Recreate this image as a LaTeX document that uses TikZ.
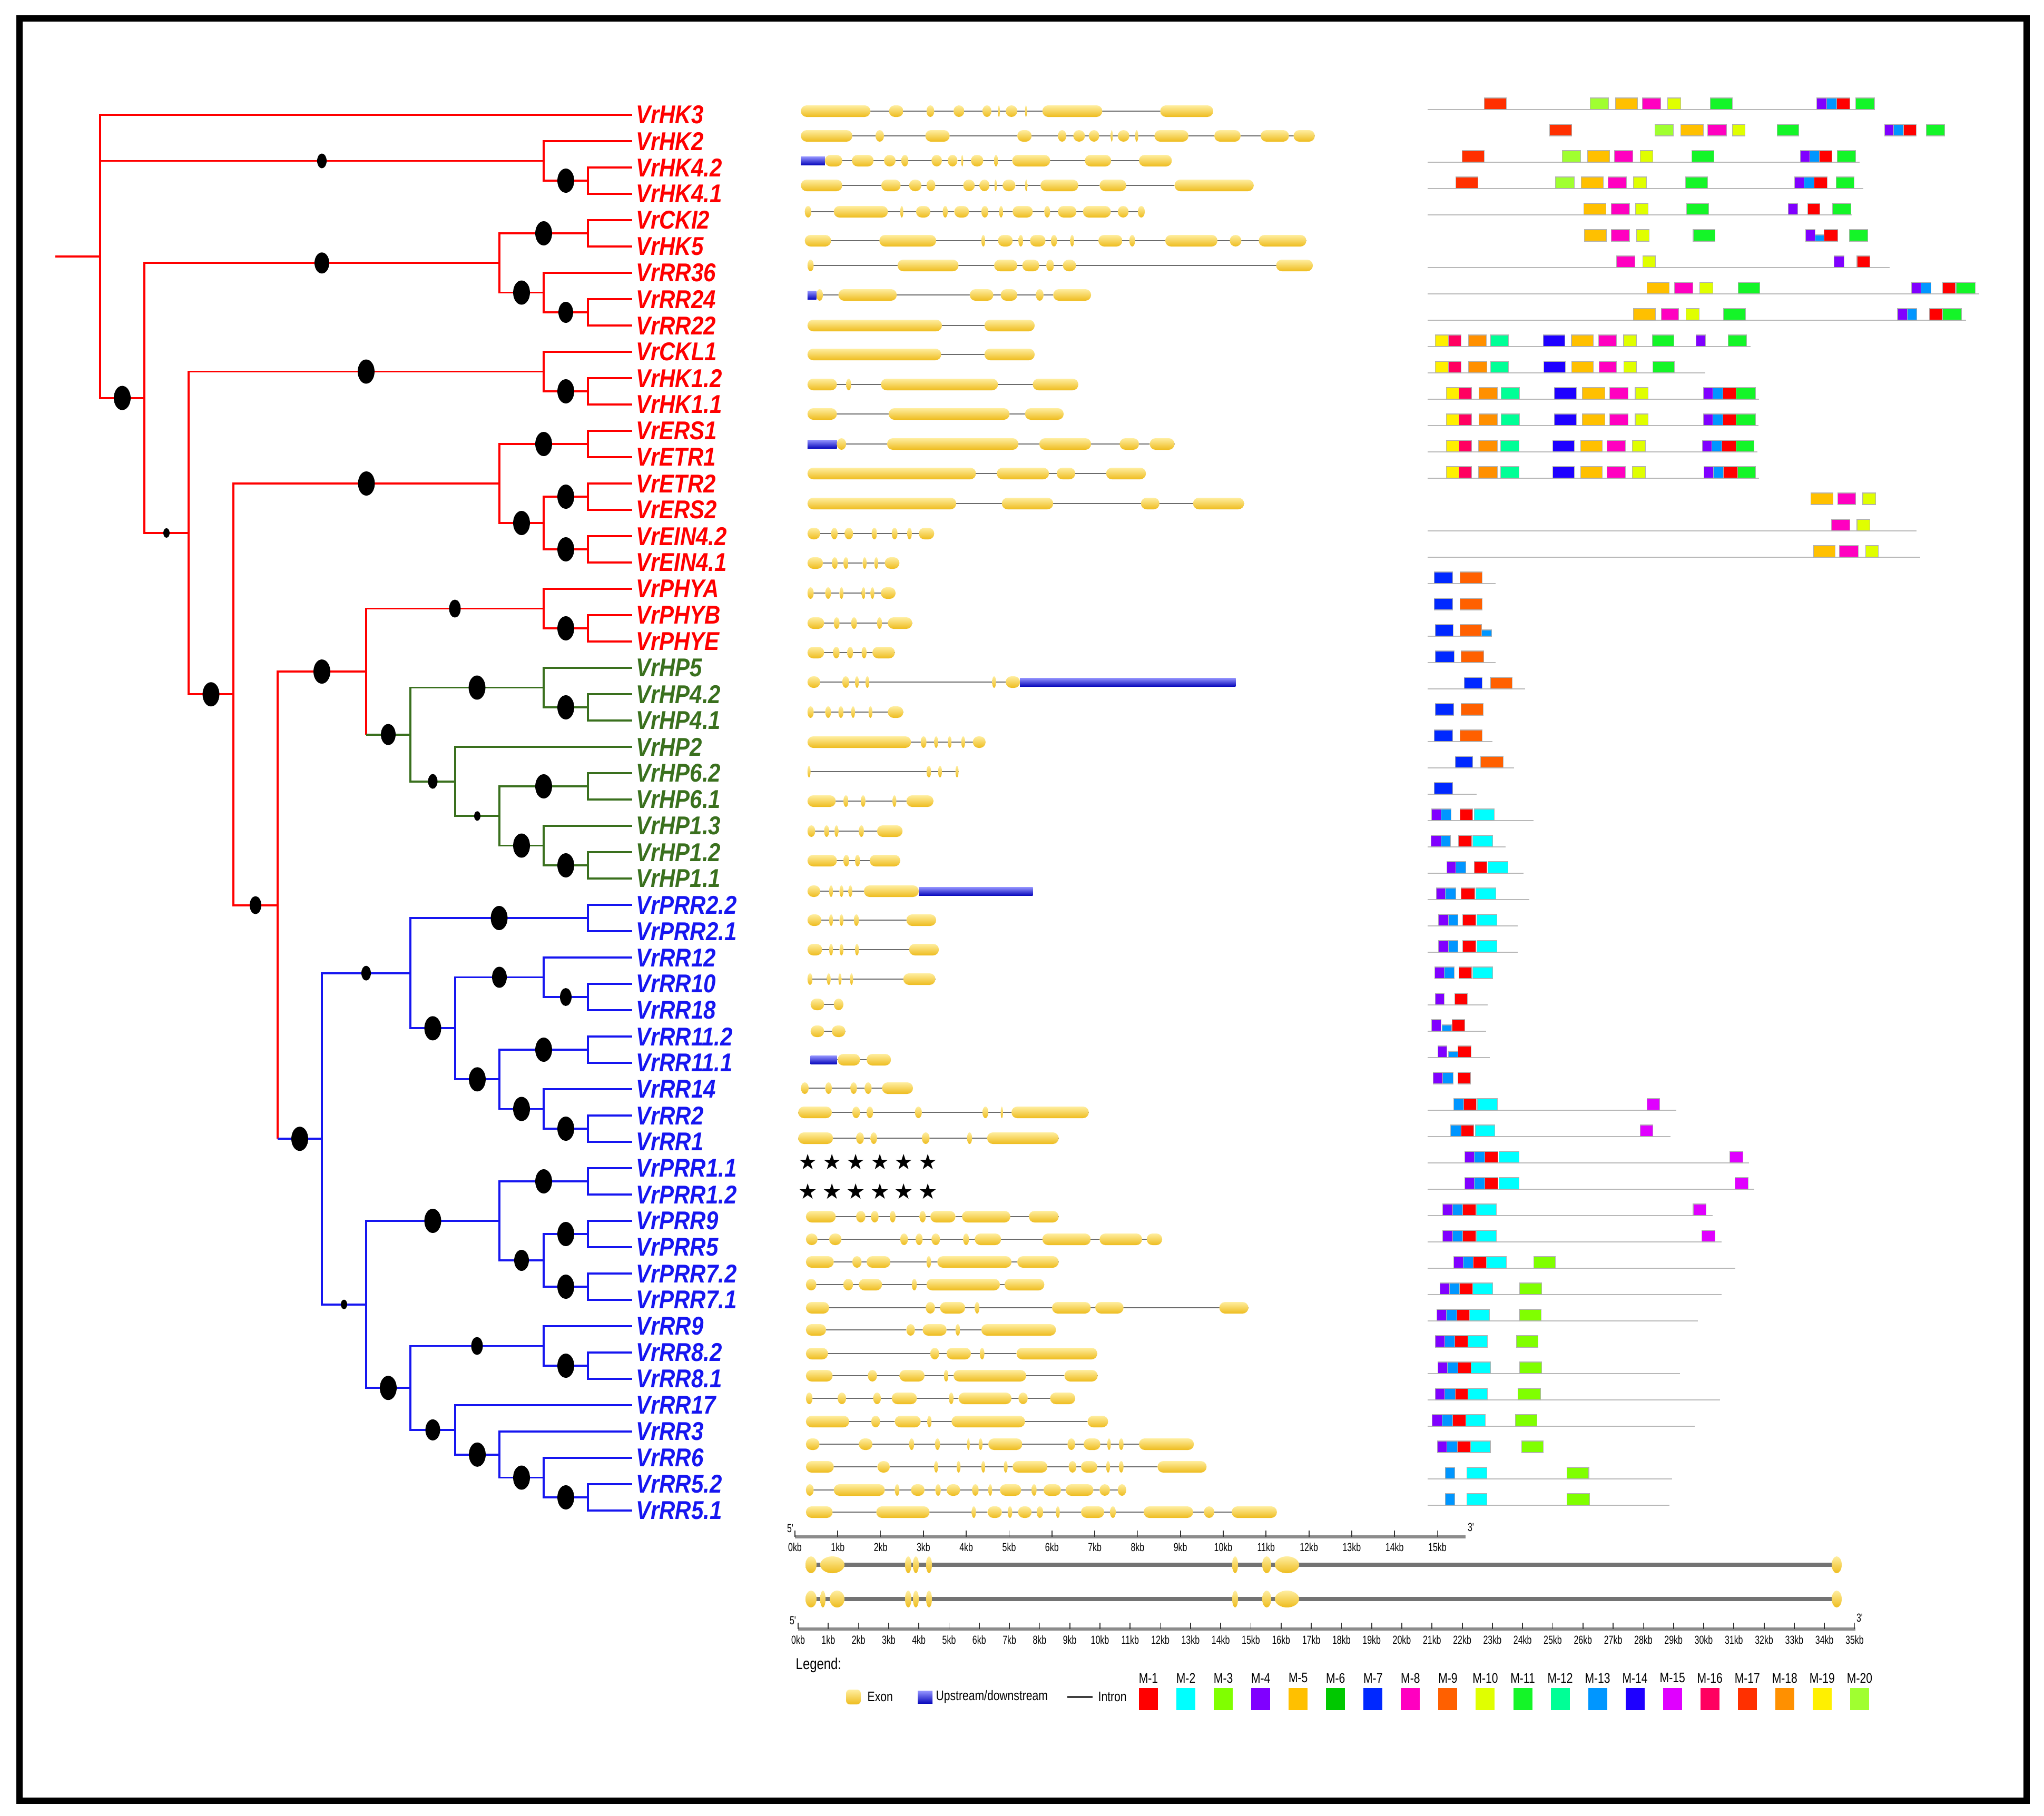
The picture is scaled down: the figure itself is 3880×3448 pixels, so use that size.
\documentclass[tikz,border=0pt]{standalone}
\usepackage{fontspec}
\setmainfont{Liberation Sans}
\newfontfamily\leaffont[FakeStretch=0.86]{Liberation Sans}
\newfontfamily\legfont[FakeStretch=0.8]{Liberation Sans}
\newfontfamily\tickfont[FakeStretch=0.72]{Liberation Sans}
\newfontfamily\starfont{DejaVu Sans}
\usetikzlibrary{calc}

% tree and gene colours
\definecolor{tred}{RGB}{255,0,0}
\definecolor{tgreen}{RGB}{58,112,30}
\definecolor{tblue}{RGB}{22,22,240}
\definecolor{exhi}{RGB}{255,238,160}
\definecolor{exlo}{RGB}{238,188,30}
\definecolor{udhi}{RGB}{150,150,255}
\definecolor{udlo}{RGB}{10,10,190}
% motif colours
\definecolor{m1}{RGB}{255,0,0}
\definecolor{m2}{RGB}{0,255,255}
\definecolor{m3}{RGB}{128,255,0}
\definecolor{m4}{RGB}{128,0,255}
\definecolor{m5}{RGB}{255,192,0}
\definecolor{m6}{RGB}{0,200,0}
\definecolor{m7}{RGB}{0,40,255}
\definecolor{m8}{RGB}{255,0,192}
\definecolor{m9}{RGB}{255,96,0}
\definecolor{m10}{RGB}{224,255,0}
\definecolor{m11}{RGB}{20,245,40}
\definecolor{m12}{RGB}{0,255,150}
\definecolor{m13}{RGB}{0,150,255}
\definecolor{m14}{RGB}{30,0,255}
\definecolor{m15}{RGB}{224,0,255}
\definecolor{m16}{RGB}{255,0,96}
\definecolor{m17}{RGB}{255,48,0}
\definecolor{m18}{RGB}{255,144,0}
\definecolor{m19}{RGB}{255,240,0}
\definecolor{m20}{RGB}{160,255,48}

\tikzset{
  leaf/.style={anchor=west, inner xsep=2pt, inner ysep=0pt,
    font=\leaffont\fontsize{13.9}{16}\selectfont\bfseries\itshape},
  leafr/.style={leaf, text=tred},
  leafg/.style={leaf, text=tgreen},
  leafb/.style={leaf, text=tblue},
  rbr/.style={tred, line width=1.1pt},
  gbr/.style={tgreen, line width=1.1pt},
  bbr/.style={tblue, line width=1.1pt},
  dotL/.style={x radius=16, y radius=23},
  dotMp/.style={x radius=14, y radius=20},
  dotM/.style={x radius=11, y radius=17},
  dotS/.style={x radius=9, y radius=14},
  dotT/.style={x radius=6, y radius=9},
  exon/.style={top color=exhi, bottom color=exlo},
  updown/.style={top color=udhi, bottom color=udlo},
  intron/.style={black!58, line width=0.8pt},
  bigintron/.style={black!55, line width=2.2pt},
  mline/.style={black!28, line width=0.6pt},
  mbox/.style={draw=black!30, line width=0.3pt},
  axisbar/.style={black!45, line width=1.5pt},
  axtick/.style={black!80, line width=0.5pt},
  ticklab/.style={inner sep=0pt, font=\tickfont\fontsize{6.3}{7}\selectfont},
  legtext/.style={inner sep=0pt, font=\legfont\fontsize{7.5}{9}\selectfont},
  starmark/.style={inner sep=0pt, font=\starfont\fontsize{11.5}{13}\selectfont}
}

% bootstrap dot half way along a branch
\newcommand{\bdot}[3][dotL]{\fill ($(#2 |- #3)!.5!(#3)$) ellipse [#1];}
% one exon, x in panel units
\newcommand{\exon}[3]{%
  \pgfmathsetmacro\exw{#3-#2}%
  \ifdim\exw pt<30pt
    \shade[exon] ({(#2+#3)/2},#1) ellipse [x radius={\exw/2}, y radius=11];%
  \else
    \shade[exon, rounded corners=3.1pt] (#2,{#1-11}) rectangle (#3,{#1+11});%
  \fi}
\newcommand{\gene}[4]{%
  \draw[intron] (#2,#1) -- (#3,#1);
  \foreach \ga/\gb in {#4} {\exon{#1}{\ga}{\gb}}}
\newcommand{\updown}[3]{\shade[updown] (#2,{#1-8}) rectangle (#3,{#1+8});}
% one motif row: index, end of line (0 = none), colour/from/to
\newcommand{\mrow}[3]{%
  \ifnum#2>0 \draw[mline] (82,{208+50*#1}) -- (#2,{208+50*#1});\fi
  \foreach \mc/\ma/\mb in {#3} {\path[mbox, fill=\mc] (\ma,{186+50*#1}) rectangle (\mb,{208+50*#1});}}
\newcommand{\mshort}[4]{\path[mbox, fill=#2] (#3,{196+50*#1}) rectangle (#4,{208+50*#1});}

\begin{document}
\begin{tikzpicture}[x=0.01cm, y=-0.01cm]
  \fill[white] (0,0) rectangle (3880,3448);
  \useasboundingbox (0,0) rectangle (3880,3448);

  % Frame
  \draw[line width=3.4pt] (37,35) rectangle (3847,3419);

  % Tree nodes
  \coordinate (stub) at (105,486.8);
  \coordinate (nR)  at (190,486.8);
  \coordinate (nA)  at (1032,305.5);
  \coordinate (nA1) at (1116,343);
  \coordinate (nB)  at (274,755.6);
  \coordinate (nC)  at (948,499.3);
  \coordinate (nC1) at (1116,443);
  \coordinate (nC2) at (1032,555.5);
  \coordinate (nC3) at (1116,593);
  \coordinate (nD)  at (358,1011.9);
  \coordinate (nE)  at (1032,705.5);
  \coordinate (nE1) at (1116,743);
  \coordinate (nF)  at (443,1318.3);
  \coordinate (nG)  at (948,918);
  \coordinate (nG1) at (1116,843);
  \coordinate (nG2) at (1032,993);
  \coordinate (nG3) at (1116,943);
  \coordinate (nG4) at (1116,1043);
  \coordinate (nH)  at (527,1718.6);
  \coordinate (nI)  at (695,1275.1);
  \coordinate (nP)  at (1032,1155.5);
  \coordinate (nP1) at (1116,1193);
  \coordinate (nK)  at (779,1394.6);
  \coordinate (nK1) at (1032,1305.5);
  \coordinate (nK2) at (1116,1343);
  \coordinate (nK3) at (864,1483.6);
  \coordinate (nK4) at (948,1549.3);
  \coordinate (nK5) at (1116,1493);
  \coordinate (nK6) at (1032,1605.5);
  \coordinate (nK7) at (1116,1643);
  \coordinate (nJ)  at (611,2162.2);
  \coordinate (nM)  at (779,1847.7);
  \coordinate (nM1) at (1116,1743);
  \coordinate (nM2) at (864,1952.4);
  \coordinate (nM3) at (1032,1855.5);
  \coordinate (nM4) at (1116,1893);
  \coordinate (nM5) at (948,2049.3);
  \coordinate (nM6) at (1116,1993);
  \coordinate (nM7) at (1032,2105.5);
  \coordinate (nM8) at (1116,2143);
  \coordinate (nN)  at (695,2476.6);
  \coordinate (nO)  at (948,2318);
  \coordinate (nO1) at (1116,2243);
  \coordinate (nO2) at (1032,2393);
  \coordinate (nO3) at (1116,2343);
  \coordinate (nO4) at (1116,2443);
  \coordinate (nQ)  at (779,2635.2);
  \coordinate (nQ1) at (1032,2555.5);
  \coordinate (nQ2) at (1116,2593);
  \coordinate (nQ3) at (864,2714.9);
  \coordinate (nQ4) at (948,2761.8);
  \coordinate (nQ5) at (1032,2805.5);
  \coordinate (nQ6) at (1116,2843);

  % Gene names
  \node[leafr] (lHK3)   at (1200,218)  {VrHK3};
  \node[leafr] (lHK2)   at (1200,268)  {VrHK2};
  \node[leafr] (lHK42)  at (1200,318)  {VrHK4.2};
  \node[leafr] (lHK41)  at (1200,368)  {VrHK4.1};
  \node[leafr] (lCKI2)  at (1200,418)  {VrCKI2};
  \node[leafr] (lHK5)   at (1200,468)  {VrHK5};
  \node[leafr] (lRR36)  at (1200,518)  {VrRR36};
  \node[leafr] (lRR24)  at (1200,568)  {VrRR24};
  \node[leafr] (lRR22)  at (1200,618)  {VrRR22};
  \node[leafr] (lCKL1)  at (1200,668)  {VrCKL1};
  \node[leafr] (lHK12)  at (1200,718)  {VrHK1.2};
  \node[leafr] (lHK11)  at (1200,768)  {VrHK1.1};
  \node[leafr] (lERS1)  at (1200,818)  {VrERS1};
  \node[leafr] (lETR1)  at (1200,868)  {VrETR1};
  \node[leafr] (lETR2)  at (1200,918)  {VrETR2};
  \node[leafr] (lERS2)  at (1200,968)  {VrERS2};
  \node[leafr] (lEIN42) at (1200,1018) {VrEIN4.2};
  \node[leafr] (lEIN41) at (1200,1068) {VrEIN4.1};
  \node[leafr] (lPHYA)  at (1200,1118) {VrPHYA};
  \node[leafr] (lPHYB)  at (1200,1168) {VrPHYB};
  \node[leafr] (lPHYE)  at (1200,1218) {VrPHYE};
  \node[leafg] (lHP5)   at (1200,1268) {VrHP5};
  \node[leafg] (lHP42)  at (1200,1318) {VrHP4.2};
  \node[leafg] (lHP41)  at (1200,1368) {VrHP4.1};
  \node[leafg] (lHP2)   at (1200,1418) {VrHP2};
  \node[leafg] (lHP62)  at (1200,1468) {VrHP6.2};
  \node[leafg] (lHP61)  at (1200,1518) {VrHP6.1};
  \node[leafg] (lHP13)  at (1200,1568) {VrHP1.3};
  \node[leafg] (lHP12)  at (1200,1618) {VrHP1.2};
  \node[leafg] (lHP11)  at (1200,1668) {VrHP1.1};
  \node[leafb] (lPRR22) at (1200,1718) {VrPRR2.2};
  \node[leafb] (lPRR21) at (1200,1768) {VrPRR2.1};
  \node[leafb] (lRR12)  at (1200,1818) {VrRR12};
  \node[leafb] (lRR10)  at (1200,1868) {VrRR10};
  \node[leafb] (lRR18)  at (1200,1918) {VrRR18};
  \node[leafb] (lRR112) at (1200,1968) {VrRR11.2};
  \node[leafb] (lRR111) at (1200,2018) {VrRR11.1};
  \node[leafb] (lRR14)  at (1200,2068) {VrRR14};
  \node[leafb] (lRR2)   at (1200,2118) {VrRR2};
  \node[leafb] (lRR1)   at (1200,2168) {VrRR1};
  \node[leafb] (lPRR11) at (1200,2218) {VrPRR1.1};
  \node[leafb] (lPRR12) at (1200,2268) {VrPRR1.2};
  \node[leafb] (lPRR9)  at (1200,2318) {VrPRR9};
  \node[leafb] (lPRR5)  at (1200,2368) {VrPRR5};
  \node[leafb] (lPRR72) at (1200,2418) {VrPRR7.2};
  \node[leafb] (lPRR71) at (1200,2468) {VrPRR7.1};
  \node[leafb] (lRR9)   at (1200,2518) {VrRR9};
  \node[leafb] (lRR82)  at (1200,2568) {VrRR8.2};
  \node[leafb] (lRR81)  at (1200,2618) {VrRR8.1};
  \node[leafb] (lRR17)  at (1200,2668) {VrRR17};
  \node[leafb] (lRR3)   at (1200,2718) {VrRR3};
  \node[leafb] (lRR6)   at (1200,2768) {VrRR6};
  \node[leafb] (lRR52)  at (1200,2818) {VrRR5.2};
  \node[leafb] (lRR51)  at (1200,2868) {VrRR5.1};

  % Red branches
  \draw[rbr] (stub) -- (nR);
  \draw[rbr] (nR) |- (lHK3) (nR) |- (nA) (nR) |- (nB);
  \draw[rbr] (nA) |- (lHK2) (nA) |- (nA1);
  \draw[rbr] (nA1) |- (lHK42) (nA1) |- (lHK41);
  \draw[rbr] (nB) |- (nC) (nB) |- (nD);
  \draw[rbr] (nC) |- (nC1) (nC) |- (nC2);
  \draw[rbr] (nC1) |- (lCKI2) (nC1) |- (lHK5);
  \draw[rbr] (nC2) |- (lRR36) (nC2) |- (nC3);
  \draw[rbr] (nC3) |- (lRR24) (nC3) |- (lRR22);
  \draw[rbr] (nD) |- (nE) (nD) |- (nF);
  \draw[rbr] (nE) |- (lCKL1) (nE) |- (nE1);
  \draw[rbr] (nE1) |- (lHK12) (nE1) |- (lHK11);
  \draw[rbr] (nF) |- (nG) (nF) |- (nH);
  \draw[rbr] (nG) |- (nG1) (nG) |- (nG2);
  \draw[rbr] (nG1) |- (lERS1) (nG1) |- (lETR1);
  \draw[rbr] (nG2) |- (nG3) (nG2) |- (nG4);
  \draw[rbr] (nG3) |- (lETR2) (nG3) |- (lERS2);
  \draw[rbr] (nG4) |- (lEIN42) (nG4) |- (lEIN41);
  \draw[rbr] (nH) |- (nI) (nH) -- (nH |- nJ);
  \draw[rbr] (nI) |- (nP) (nI) -- (nI |- nK);
  \draw[rbr] (nP) |- (lPHYA) (nP) |- (nP1);
  \draw[rbr] (nP1) |- (lPHYB) (nP1) |- (lPHYE);

  % Green branches
  \draw[gbr] (nI |- nK) -- (nK);
  \draw[gbr] (nK) |- (nK1) (nK) |- (nK3);
  \draw[gbr] (nK1) |- (lHP5) (nK1) |- (nK2);
  \draw[gbr] (nK2) |- (lHP42) (nK2) |- (lHP41);
  \draw[gbr] (nK3) |- (lHP2) (nK3) |- (nK4);
  \draw[gbr] (nK4) |- (nK5) (nK4) |- (nK6);
  \draw[gbr] (nK5) |- (lHP62) (nK5) |- (lHP61);
  \draw[gbr] (nK6) |- (lHP13) (nK6) |- (nK7);
  \draw[gbr] (nK7) |- (lHP12) (nK7) |- (lHP11);

  % Blue branches
  \draw[bbr] (nH |- nJ) -- (nJ);
  \draw[bbr] (nJ) |- (nM) (nJ) |- (nN);
  \draw[bbr] (nM) |- (nM1) (nM) |- (nM2);
  \draw[bbr] (nM1) |- (lPRR22) (nM1) |- (lPRR21);
  \draw[bbr] (nM2) |- (nM3) (nM2) |- (nM5);
  \draw[bbr] (nM3) |- (lRR12) (nM3) |- (nM4);
  \draw[bbr] (nM4) |- (lRR10) (nM4) |- (lRR18);
  \draw[bbr] (nM5) |- (nM6) (nM5) |- (nM7);
  \draw[bbr] (nM6) |- (lRR112) (nM6) |- (lRR111);
  \draw[bbr] (nM7) |- (lRR14) (nM7) |- (nM8);
  \draw[bbr] (nM8) |- (lRR2) (nM8) |- (lRR1);
  \draw[bbr] (nN) |- (nO) (nN) |- (nQ);
  \draw[bbr] (nO) |- (nO1) (nO) |- (nO2);
  \draw[bbr] (nO1) |- (lPRR11) (nO1) |- (lPRR12);
  \draw[bbr] (nO2) |- (nO3) (nO2) |- (nO4);
  \draw[bbr] (nO3) |- (lPRR9) (nO3) |- (lPRR5);
  \draw[bbr] (nO4) |- (lPRR72) (nO4) |- (lPRR71);
  \draw[bbr] (nQ) |- (nQ1) (nQ) |- (nQ3);
  \draw[bbr] (nQ1) |- (lRR9) (nQ1) |- (nQ2);
  \draw[bbr] (nQ2) |- (lRR82) (nQ2) |- (lRR81);
  \draw[bbr] (nQ3) |- (lRR17) (nQ3) |- (nQ4);
  \draw[bbr] (nQ4) |- (lRR3) (nQ4) |- (nQ5);
  \draw[bbr] (nQ5) |- (lRR6) (nQ5) |- (nQ6);
  \draw[bbr] (nQ6) |- (lRR52) (nQ6) |- (lRR51);

  % Bootstrap support
  \bdot[dotS]{nR}{nA}   \bdot{nA}{nA1}      \bdot{nR}{nB}
  \bdot[dotMp]{nB}{nC}  \bdot{nC}{nC1}      \bdot{nC}{nC2}
  \bdot[dotMp]{nC2}{nC3} \bdot[dotT]{nB}{nD} \bdot{nD}{nE}
  \bdot{nE}{nE1}        \bdot{nD}{nF}       \bdot{nF}{nG}
  \bdot{nG}{nG1}        \bdot{nG}{nG2}      \bdot{nG2}{nG3}
  \bdot{nG2}{nG4}       \bdot[dotM]{nF}{nH} \bdot{nH}{nI}
  \bdot[dotM]{nI}{nP}   \bdot{nP}{nP1}      \bdot[dotMp]{nI}{nK}
  \bdot{nK}{nK1}        \bdot{nK1}{nK2}     \bdot[dotS]{nK}{nK3}
  \bdot[dotT]{nK3}{nK4} \bdot{nK4}{nK5}     \bdot{nK4}{nK6}
  \bdot{nK6}{nK7}       \bdot{nH}{nJ}       \bdot[dotS]{nJ}{nM}
  \bdot{nM}{nM1}        \bdot{nM}{nM2}      \bdot[dotMp]{nM2}{nM3}
  \bdot[dotM]{nM3}{nM4} \bdot{nM2}{nM5}     \bdot{nM5}{nM6}
  \bdot{nM5}{nM7}       \bdot{nM7}{nM8}     \bdot[dotT]{nJ}{nN}
  \bdot{nN}{nO}         \bdot{nO}{nO1}      \bdot[dotMp]{nO}{nO2}
  \bdot{nO2}{nO3}       \bdot{nO2}{nO4}     \bdot{nN}{nQ}
  \bdot[dotM]{nQ}{nQ1}  \bdot{nQ1}{nQ2}     \bdot[dotMp]{nQ}{nQ3}
  \bdot{nQ3}{nQ4}       \bdot{nQ4}{nQ5}     \bdot{nQ5}{nQ6}

  % Gene structures
  \begin{scope}[shift={(1480,0)}, xscale=0.7334]
    \gene{211}{55}{1122}{55/235, 283/320, 380/400, 450/478, 525/548, 565/570, 585/615, 635/640, 680/835, 985/1122}
    \gene{258}{55}{1385}{55/188, 248/270, 377/440, 615/652, 720/742, 760/790, 800/827, 857/862, 875/905, 920/928, 970/1058, 1125/1193, 1245/1318, 1330/1385}
    \updown{305}{55}{117}
    \gene{305}{117}{1015}{117/162, 187/243, 270/300, 315/333, 393/420, 435/460, 470/475, 495/527, 555/565, 602/700, 790/858, 930/1015}
    \gene{352}{55}{1227}{55/162, 263/313, 335/367, 380/403, 475/505, 517/543, 556/562, 577/610, 635/642, 675/773, 828/897, 1022/1227}
    \gene{402}{65}{945}{65/82, 140/280, 312/320, 353/390, 422/435, 452/490, 522/540, 568/578, 603/655, 685/700, 720/768, 785/857, 875/903, 927/945}
    \gene{457}{65}{1363}{65/133, 258/405, 522/532, 565/603, 618/630, 648/688, 702/718, 752/762, 825/887, 905/920, 998/1133, 1165/1195, 1240/1363}
    \gene{504}{72}{1380}{72/88, 305/463, 555/615, 628/672, 690/710, 733/767, 1285/1380}
    \gene{560}{72}{806}{95/112, 152/303, 492/553, 572/615, 663/683, 708/806}
    \updown{560}{72}{95}
    \gene{618}{72}{660}{72/420, 530/660}
    \gene{673}{72}{660}{72/418, 530/660}
    \gene{730}{72}{773}{72/148, 172/185, 262/565, 655/773}
    \gene{786}{72}{735}{72/148, 282/595, 635/735}
    \updown{843}{72}{148}
    \gene{843}{148}{1022}{148/172, 278/618, 672/806, 880/930, 958/1022}
    \gene{899}{72}{948}{72/508, 562/697, 717/765, 845/948}
    \gene{956}{72}{1202}{72/457, 575/708, 935/983, 1070/1202}
    \gene{1013}{72}{400}{72/105, 133/150, 168/190, 238/252, 290/305, 330/342, 360/400}
    \gene{1069}{72}{310}{72/112, 135/150, 165/178, 215/225, 245/255, 272/310}
    \gene{1126}{72}{300}{72/88, 118/133, 155/165, 212/222, 235/245, 262/300}
    \gene{1183}{72}{343}{72/115, 140/155, 185/200, 252/265, 280/343}
    \gene{1239}{72}{298}{72/115, 138/155, 175/190, 212/225, 240/298}
    \gene{1295}{72}{622}{72/105, 162/180, 195/205, 222/232, 550/560, 585/622}
    \updown{1295}{622}{1180}
    \gene{1352}{72}{320}{72/88, 118/133, 152/165, 185/195, 230/240, 280/320}
    \gene{1409}{72}{533}{72/340, 365/380, 400/410, 435/445, 470/480, 500/533}
    \gene{1465}{72}{463}{72/80, 380/392, 410/420, 455/463}
    \gene{1521}{72}{398}{72/145, 165/178, 210/222, 292/302, 328/398}
    \gene{1578}{72}{318}{72/92, 115/128, 142/152, 205/218, 252/318}
    \gene{1634}{72}{312}{72/148, 165/180, 195/208, 233/312}
    \gene{1692}{72}{360}{72/105, 128/138, 155/165, 178/188, 218/360}
    \updown{1692}{360}{655}
    \gene{1747}{72}{405}{72/108, 128/138, 155/165, 192/205, 328/405}
    \gene{1803}{72}{412}{72/110, 128/138, 155/165, 195/205, 335/412}
    \gene{1859}{72}{403}{72/85, 122/132, 152/160, 182/190, 320/403}
    \gene{1907}{80}{165}{80/115, 140/165}
    \gene{1958}{80}{170}{80/115, 135/170}
    \updown{2012}{80}{148}
    \gene{2012}{148}{288}{150/208, 225/288}
    \gene{2066}{55}{345}{55/75, 118/135, 183/200, 220/238, 265/345}
    \gene{2112}{48}{800}{48/135, 188/208, 225/242, 350/368, 525/540, 572/578, 600/800}
    \gene{2161}{48}{722}{48/138, 198/218, 235/252, 368/388, 485/498, 537/722}
    \gene{2310}{68}{722}{68/145, 198/222, 236/256, 285/300, 362/378, 390/455, 472/597, 645/722}
    \gene{2353}{68}{990}{68/98, 128/160, 312/332, 352/370, 393/415, 475/490, 505/573, 680/805, 828/938, 950/990}
    \gene{2396}{68}{722}{68/140, 188/212, 225/287, 380/392, 408/600, 615/722}
    \gene{2439}{68}{685}{68/95, 165/190, 205/265, 342/355, 380/570, 582/685}
    \gene{2483}{68}{1213}{68/128, 378/402, 415/480, 505/517, 705/805, 817/890, 1138/1213}
    \gene{2525}{68}{715}{68/120, 328/350, 370/432, 455/467, 522/715}
    \gene{2570}{68}{822}{68/125, 390/413, 432/495, 518/530, 613/822}
    \gene{2612}{68}{823}{68/137, 228/252, 310/375, 425/437, 450/638, 737/823}
    \gene{2655}{68}{765}{68/85, 150/172, 242/262, 290/355, 438/450, 463/600, 618/642, 700/765}
    \gene{2699}{68}{850}{68/180, 237/260, 298/365, 382/393, 445/635, 797/850}
    \gene{2742}{68}{1072}{68/103, 205/240, 335/348, 402/415, 485/492, 515/525, 540/628, 745/765, 787/830, 848/857, 878/890, 930/1072}
    \gene{2785}{68}{1105}{68/140, 253/285, 400/410, 458/468, 522/532, 580/590, 603/693, 748/768, 780/822, 845/855, 878/890, 978/1105}
    \gene{2829}{68}{897}{68/88, 140/272, 298/310, 340/375, 403/417, 432/467, 498/515, 540/550, 570/625, 652/665, 683/728, 740/812, 828/855, 875/897}
    \gene{2871}{68}{1287}{68/137, 250/388, 497/508, 538/575, 590/602, 617/652, 665/682, 715/725, 780/840, 855/870, 942/1070, 1098/1125, 1170/1287}
  \end{scope}

  % Genes drawn on the long scale
  \foreach \j in {0,...,5} {
    \node[starmark] (sa\j) at ({1534+45.5*\j},2206) {★};
    \node[starmark] (sb\j) at ({1534+45.5*\j},2262) {★};
  }

  % Scale bar, 15 kb
  \draw[axisbar] (1509,2918) -- (2782,2918);
  \foreach \k in {0,...,15} {
    \draw[axtick] ({1509+81.3*\k},2918) -- ++(0,-12);
    \node[ticklab] (ta\k) at ({1509+81.3*\k},2938) {\k kb};
  }
  \node[ticklab] (ta5p) at (1500,2902) {5'};
  \node[ticklab] (ta3p) at (2792,2900) {3'};

  % Long genes
  \draw[bigintron] (1539,2971) -- (3486,2971);
  \shade[exon] (1539.5,2971) ellipse [x radius=10.5, y radius=16];
  \shade[exon] (1580,2971) ellipse [x radius=23, y radius=16];
  \shade[exon] (1724,2971) ellipse [x radius=6, y radius=16];
  \shade[exon] (1738.5,2971) ellipse [x radius=5.5, y radius=16];
  \shade[exon] (1763.5,2971) ellipse [x radius=5.5, y radius=16];
  \shade[exon] (2344.5,2971) ellipse [x radius=5.5, y radius=16];
  \shade[exon] (2404.5,2971) ellipse [x radius=8.5, y radius=16];
  \shade[exon] (2443,2971) ellipse [x radius=23, y radius=16];
  \shade[exon] (3486.5,2971) ellipse [x radius=9.5, y radius=16];
  \draw[bigintron] (1539,3036) -- (3486,3036);
  \shade[exon] (1539.5,3036) ellipse [x radius=10.5, y radius=16];
  \shade[exon] (1562,3036) ellipse [x radius=5, y radius=16];
  \shade[exon] (1589,3036) ellipse [x radius=14, y radius=16];
  \shade[exon] (1724,3036) ellipse [x radius=6, y radius=16];
  \shade[exon] (1738.5,3036) ellipse [x radius=5.5, y radius=16];
  \shade[exon] (1763.5,3036) ellipse [x radius=5.5, y radius=16];
  \shade[exon] (2344.5,3036) ellipse [x radius=5.5, y radius=16];
  \shade[exon] (2404.5,3036) ellipse [x radius=8.5, y radius=16];
  \shade[exon] (2443,3036) ellipse [x radius=23, y radius=16];
  \shade[exon] (3486.5,3036) ellipse [x radius=9.5, y radius=16];

  % Scale bar, 35 kb
  \draw[axisbar] (1515,3093) -- (3522,3093);
  \foreach \k in {0,...,35} {
    \draw[axtick] ({1515+57.3*\k},3093) -- ++(0,-12);
    \node[ticklab] (tb\k) at ({1515+57.3*\k},3114) {\k kb};
  }
  \node[ticklab] (tb5p) at (1505,3077) {5'};
  \node[ticklab] (tb3p) at (3530,3072) {3'};

  % Conserved motifs
  \begin{scope}[shift={(2650,0)}, xscale=0.7334]
    \mrow{0}{1240}{m17/228/285, m20/502/550, m5/568/625, m8/638/685, m10/703/737, m11/813/870, m4/1089/1114, m13/1114/1140, m1/1140/1174, m11/1190/1238}
    \mrow{1}{0}{m17/398/455, m20/670/718, m5/737/795, m8/806/855, m10/870/903, m11/986/1043, m4/1264/1288, m13/1288/1313, m1/1313/1347, m11/1372/1420}
    \mrow{2}{1200}{m17/171/228, m20/430/478, m5/496/553, m8/565/613, m10/632/665, m11/766/823, m4/1046/1071, m13/1071/1096, m1/1096/1128, m11/1142/1189}
    \mrow{3}{1210}{m17/155/212, m20/413/461, m5/479/536, m8/549/596, m10/614/648, m11/749/806, m4/1031/1056, m13/1056/1082, m1/1082/1116, m11/1139/1186}
    \mrow{4}{1180}{m5/486/543, m8/557/604, m10/620/653, m11/752/809, m4/1015/1039, m1/1065/1097, m11/1129/1177}
    \mrow{5}{0}{m5/488/545, m8/557/604, m10/622/655, m11/769/826, m4/1060/1084, m1/1108/1143, m11/1173/1221}
    \mshort{5}{m13}{1084}{1108}
    \mrow{6}{1278}{m8/571/618, m10/639/672, m4/1134/1159, m1/1193/1227}
    \mrow{7}{1510}{m5/650/707, m8/721/768, m10/786/820, m11/885/941, m4/1334/1359, m13/1359/1385, m1/1415/1448, m11/1450/1499}
    \mrow{8}{1475}{m5/614/672, m8/686/732, m10/751/785, m11/848/905, m4/1298/1323, m13/1323/1348, m1/1380/1413, m11/1415/1464}
    \mrow{9}{918}{m19/101/135, m16/135/169, m18/187/234, m12/244/291, m14/381/437, m5/454/510, m8/524/570, m10/589/622, m11/663/719, m4/776/801, m11/860/907}
    \mrow{10}{800}{m19/102/136, m16/136/169, m18/188/235, m12/245/291, m14/382/438, m5/455/511, m8/525/571, m10/590/623, m11/665/720}
    \mrow{11}{940}{m19/130/163, m16/163/196, m18/215/262, m12/272/319, m14/410/467, m5/482/540, m8/553/600, m10/619/653, m4/795/820, m13/820/846, m1/846/880, m11/880/930}
    \mrow{12}{938}{m19/130/163, m16/163/196, m18/215/262, m12/272/319, m14/410/467, m5/482/540, m8/553/600, m10/619/653, m4/795/820, m13/820/846, m1/846/880, m11/880/930}
    \mrow{13}{936}{m19/130/163, m16/163/195, m18/213/262, m12/271/318, m14/405/462, m5/478/534, m8/546/594, m10/612/646, m4/793/817, m13/817/843, m1/843/880, m11/880/927}
    \mrow{14}{940}{m19/130/163, m16/163/195, m18/213/262, m12/271/318, m14/405/462, m5/478/534, m8/546/594, m10/612/646, m4/797/821, m13/821/847, m1/847/884, m11/884/930}
    \mrow{15}{0}{m5/1074/1131, m8/1143/1190, m10/1208/1242}
    \mrow{16}{1347}{m8/1127/1174, m10/1193/1226}
    \mrow{17}{1357}{m5/1080/1137, m8/1148/1196, m10/1215/1248}
    \mrow{18}{258}{m7/99/146, m9/165/223}
    \mrow{19}{0}{m7/99/146, m9/165/223}
    \mrow{20}{245}{m7/101/148, m9/166/222}
    \mshort{20}{m13}{222}{247}
    \mrow{21}{258}{m7/102/150, m9/169/227}
    \mrow{22}{334}{m7/176/223, m9/244/301}
    \mrow{23}{0}{m7/101/149, m9/168/225}
    \mrow{24}{250}{m7/99/146, m9/166/223}
    \mrow{25}{305}{m7/153/199, m9/219/277}
    \mrow{26}{208}{m7/99/146}
    \mrow{27}{356}{m4/92/117, m13/117/143, m1/166/199, m2/202/254}
    \mrow{28}{284}{m4/91/116, m13/116/141, m1/162/195, m2/198/250}
    \mrow{29}{330}{m4/131/155, m13/155/180, m1/202/235, m2/238/290}
    \mrow{30}{345}{m4/104/128, m13/128/155, m1/169/204, m2/206/258}
    \mrow{31}{315}{m4/110/135, m13/135/160, m1/172/206, m2/209/261}
    \mrow{32}{315}{m4/110/135, m13/135/160, m1/172/206, m2/209/261}
    \mrow{33}{0}{m4/100/125, m13/125/150, m1/163/195, m2/199/250}
    \mrow{34}{237}{m4/101/125, m1/152/185}
    \mrow{35}{233}{m4/92/117, m1/145/178}
    \mshort{35}{m13}{119}{144}
    \mrow{36}{243}{m4/108/132, m1/160/194}
    \mshort{36}{m13}{135}{160}
    \mrow{37}{0}{m4/96/121, m13/121/148, m1/160/193}
    \mrow{38}{725}{m13/149/175, m1/175/208, m2/210/262, m15/650/682}
    \mrow{39}{711}{m13/141/168, m1/168/201, m2/205/256, m15/632/665}
    \mrow{40}{913}{m4/178/203, m13/203/230, m1/230/264, m2/266/318, m15/864/898}
    \mrow{41}{927}{m4/178/203, m13/203/230, m1/230/264, m2/266/318, m15/878/912}
    \mrow{42}{820}{m4/121/146, m13/146/172, m1/172/206, m2/208/260, m15/769/803}
    \mrow{43}{843}{m4/121/146, m13/146/172, m1/172/206, m2/208/260, m15/791/825}
    \mrow{44}{878}{m4/149/174, m13/174/200, m1/200/234, m2/234/285, m3/357/413}
    \mrow{45}{842}{m4/114/138, m13/138/164, m1/164/198, m2/198/250, m3/320/377}
    \mrow{46}{781}{m4/105/130, m13/130/157, m1/157/190, m2/190/242, m3/319/376}
    \mrow{47}{0}{m4/101/126, m13/126/152, m1/152/186, m2/186/237, m3/312/368}
    \mrow{48}{735}{m4/108/133, m13/133/160, m1/160/194, m2/194/245, m3/320/377}
    \mrow{49}{838}{m4/101/126, m13/126/153, m1/153/186, m2/186/237, m3/316/374}
    \mrow{50}{773}{m4/94/119, m13/119/146, m1/146/180, m2/180/231, m3/309/365}
    \mrow{51}{0}{m4/107/132, m13/132/159, m1/159/193, m2/193/244, m3/325/381}
    \mrow{52}{714}{m13/127/152, m2/184/235, m3/442/499}
    \mrow{53}{707}{m13/127/152, m2/184/235, m3/443/501}
  \end{scope}

  % Legend
  \node[legtext, anchor=west, font=\legfont\fontsize{8.5}{10}\selectfont] (legend) at (1510,3162) {Legend:};
  \shade[exon, rounded corners=2pt] (1606,3208) rectangle (1634,3236);
  \node[legtext, anchor=west] (lexon) at (1646,3222) {Exon};
  \shade[updown] (1742,3210) rectangle (1770,3234);
  \node[legtext, anchor=west] (lupdown) at (1776,3222) {Upstream/downstream};
  \draw[black!75, line width=1.4pt] (2026,3222) -- (2074,3222);
  \node[legtext, anchor=west] (lintron) at (2084,3222) {Intron};
  \foreach \k in {1,...,20} {
    \fill[m\k] ({2162+71.05*(\k-1)},3205) rectangle ++(36,42);
    \node[legtext] (mk\k) at ({2180+71.05*(\k-1)},3186) {M-\k};
  }
\end{tikzpicture}
\end{document}
